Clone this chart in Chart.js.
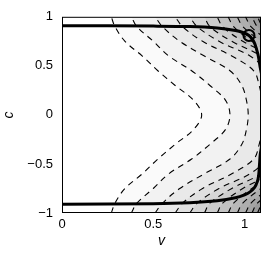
<!DOCTYPE html>
<html>
<head>
<meta charset="utf-8">
<script src="https://cdn.jsdelivr.net/npm/chart.js@4"></script>
<style>
  html, body { margin: 0; padding: 0; background: #fff; }
  #wrap { width: 270px; height: 257px; }
</style>
</head>
<body>
<div id="wrap"><canvas id="myChart" width="270" height="257"></canvas></div>
<script>
// c positions where each contour was read (bottom to top)
var cLevels = [-1, -0.9, -0.75, -0.6, -0.45, -0.3, -0.15, 0, 0.15, 0.3, 0.45, 0.6, 0.75, 0.9, 1];

// v of each dashed contour at those c positions (1.2 = off the right edge)
var contour1  = [0.27, 0.29, 0.345, 0.44, 0.525, 0.62, 0.72, 0.765, 0.72, 0.62, 0.525, 0.44, 0.345, 0.29, 0.27];
var contour2  = [0.38, 0.41, 0.50, 0.585, 0.71, 0.81, 0.895, 0.92, 0.895, 0.81, 0.71, 0.585, 0.50, 0.41, 0.38];
var contour3  = [0.51, 0.55, 0.645, 0.78, 0.92, 0.985, 1.01, 1.02, 1.01, 0.985, 0.92, 0.78, 0.645, 0.55, 0.51];
var contour4  = [0.62, 0.66, 0.77, 0.93, 1.05, 1.08, 1.095, 1.10, 1.095, 1.08, 1.05, 0.93, 0.77, 0.66, 0.62];
var contour5  = [0.70, 0.74, 0.86, 1.03, 1.12, 1.16, 1.2, 1.2, 1.2, 1.16, 1.12, 1.03, 0.86, 0.74, 0.70];
var contour6  = [0.78, 0.81, 0.93, 1.09, 1.18, 1.2, 1.2, 1.2, 1.2, 1.2, 1.18, 1.09, 0.93, 0.81, 0.78];
var contour7  = [0.85, 0.88, 0.99, 1.14, 1.2, 1.2, 1.2, 1.2, 1.2, 1.2, 1.2, 1.14, 0.99, 0.88, 0.85];
var contour8  = [0.91, 0.94, 1.04, 1.18, 1.2, 1.2, 1.2, 1.2, 1.2, 1.2, 1.2, 1.18, 1.04, 0.94, 0.91];
var contour9  = [0.96, 0.99, 1.09, 1.2, 1.2, 1.2, 1.2, 1.2, 1.2, 1.2, 1.2, 1.2, 1.09, 0.99, 0.96];
var contour10 = [1.005, 1.035, 1.13, 1.2, 1.2, 1.2, 1.2, 1.2, 1.2, 1.2, 1.2, 1.2, 1.13, 1.035, 1.005];
var contour11 = [1.04, 1.07, 1.17, 1.2, 1.2, 1.2, 1.2, 1.2, 1.2, 1.2, 1.2, 1.2, 1.17, 1.07, 1.04];
var contour12 = [1.07, 1.10, 1.2, 1.2, 1.2, 1.2, 1.2, 1.2, 1.2, 1.2, 1.2, 1.2, 1.2, 1.10, 1.07];
var contours = [contour1, contour2, contour3, contour4, contour5, contour6,
                contour7, contour8, contour9, contour10, contour11, contour12];

// thick curves
var upperV = [0, 0.5, 0.7, 0.85, 0.95, 0.99, 1.024, 1.045, 1.057, 1.073, 1.08, 1.086, 1.095];
var upperC = [0.91, 0.905, 0.9, 0.885, 0.86, 0.84, 0.81, 0.765, 0.72, 0.62, 0.55, 0.48, 0.4];
var lowerV = [0, 0.5, 0.7, 0.85, 0.95, 1.0, 1.03, 1.055, 1.07, 1.077, 1.082, 1.086, 1.095];
var lowerC = [-0.91, -0.905, -0.895, -0.875, -0.845, -0.815, -0.785, -0.74, -0.68, -0.62, -0.5, -0.4, -0.3];

// circled point
var markV = [1.024];
var markC = [0.81];

var xTicks = [0, 0.5, 1];
var yTicks = [-1, -0.5, 0, 0.5, 1];

// shade of the region to the right of each contour
var bandGrays = ['#fafafa', '#f2f2f2', '#e9e9e9', '#e0e0e0', '#d6d6d6', '#cccccc',
                 '#c2c2c2', '#b8b8b8', '#aeaeae', '#a4a4a4', '#9a9a9a', '#909090'];

function toPoints(xs, ys) {
    return xs.map(function (v, i) { return {x: v, y: ys[i]}; });
}

var shade = {
    id: 'shade',
    beforeDatasetsDraw: function (chart) {
        var ctx = chart.ctx, a = chart.chartArea;
        ctx.save();
        ctx.beginPath();
        ctx.rect(a.left, a.top, a.right - a.left, a.bottom - a.top);
        ctx.clip();
        for (var k = 0; k < contours.length; k++) {
            var line = chart.getDatasetMeta(k).dataset;
            var pts = line.points;
            ctx.beginPath();
            line.path(ctx);
            ctx.lineTo(a.right + 60, pts[pts.length - 1].y);
            ctx.lineTo(a.right + 60, pts[0].y);
            ctx.closePath();
            ctx.fillStyle = bandGrays[k];
            ctx.fill();
        }
        ctx.restore();
    },
    afterDatasetsDraw: function (chart) {
        var ctx = chart.ctx, a = chart.chartArea;
        ctx.save();
        ctx.strokeStyle = '#000';
        ctx.lineWidth = 1;
        ctx.strokeRect(a.left + 0.5, a.top + 0.5, a.right - a.left - 1, a.bottom - a.top - 1);
        ctx.restore();
    }
};

var datasets = contours.map(function (cv) {
    return {
        data: toPoints(cv, cLevels),
        showLine: true,
        borderColor: '#000',
        borderWidth: 1.1,
        borderDash: [6, 5],
        pointRadius: 0,
        tension: 0.35
    };
});
datasets.push({
    data: toPoints(upperV, upperC),
    showLine: true, borderColor: '#000', borderWidth: 3, pointRadius: 0, tension: 0.3
});
datasets.push({
    data: toPoints(lowerV, lowerC),
    showLine: true, borderColor: '#000', borderWidth: 3, pointRadius: 0, tension: 0.3
});
datasets.push({
    data: toPoints(markV, markC),
    pointRadius: 5.5, pointBorderWidth: 2, pointBorderColor: '#000',
    pointBackgroundColor: 'rgba(0,0,0,0)'
});

function minusFmt(v) {
    return String(v).replace('-', '\u2212');
}

var ctx = document.getElementById('myChart').getContext('2d');
var myChart = new Chart(ctx, {
    type: 'scatter',
    data: { datasets: datasets },
    plugins: [shade],
    options: {
        responsive: false,
        animation: false,
        devicePixelRatio: 1,
        layout: { padding: { top: 15, right: 9, left: 0, bottom: 0 } },
        elements: { line: { capBezierPoints: false } },
        plugins: { legend: { display: false }, tooltip: { enabled: false } },
        scales: {
            x: {
                type: 'linear', min: 0, max: 1.09,
                afterBuildTicks: function (s) { s.ticks = xTicks.map(function (v) { return {value: v}; }); },
                afterFit: function (s) { s.height = 44; },
                grid: { display: false, drawTicks: false },
                border: { display: false },
                ticks: {
                    padding: 4, color: '#000', maxRotation: 0,
                    font: { family: 'Liberation Sans', size: 13 },
                    callback: function (v) { return minusFmt(v); }
                },
                title: {
                    display: true, text: 'v', color: '#000',
                    font: { family: 'Liberation Sans', size: 14, style: 'italic' },
                    padding: { top: 0, bottom: 7 }
                }
            },
            y: {
                type: 'linear', min: -1, max: 1,
                afterBuildTicks: function (s) { s.ticks = yTicks.map(function (v) { return {value: v}; }); },
                afterFit: function (s) { s.width = 62; },
                grid: { display: false, drawTicks: false },
                border: { display: false },
                ticks: {
                    padding: 9, color: '#000',
                    font: { family: 'Liberation Sans', size: 13 },
                    callback: function (v) { return minusFmt(v); }
                },
                title: {
                    display: true, text: 'c', color: '#000',
                    font: { family: 'Liberation Sans', size: 14, style: 'italic' },
                    padding: { top: 1, bottom: 0 }
                }
            }
        }
    }
});
</script>
</body>
</html>
